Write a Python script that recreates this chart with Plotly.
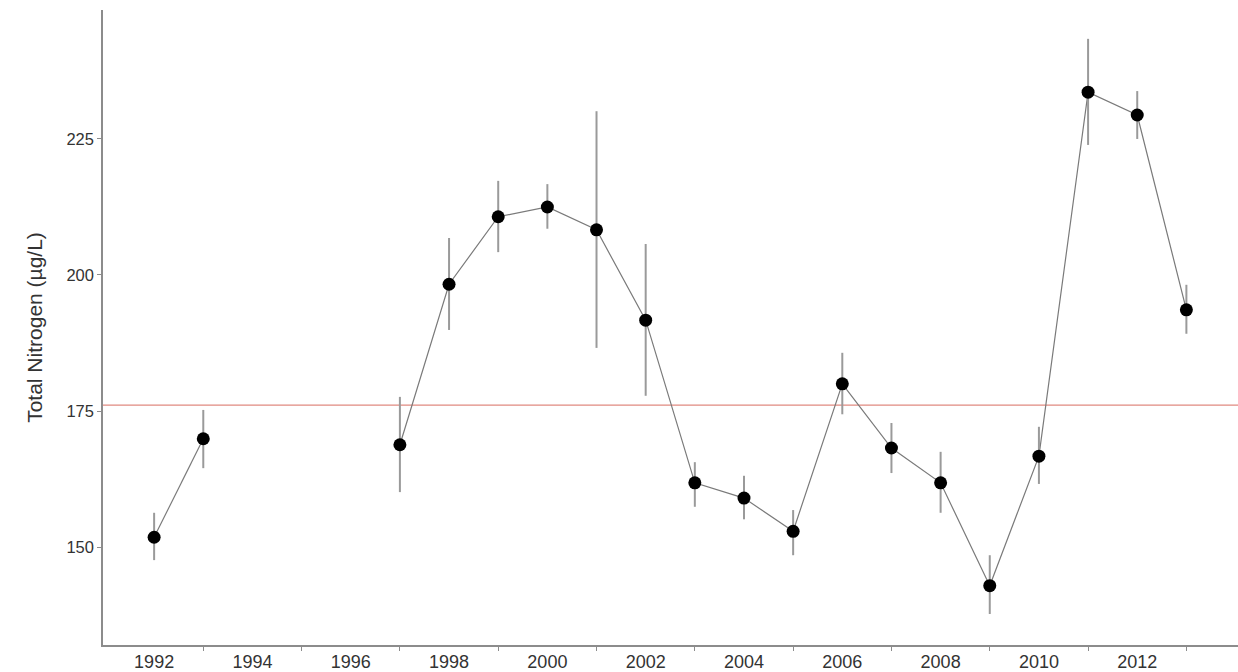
import plotly.graph_objects as go

# Annual mean total nitrogen with confidence bounds
years = [1992, 1993, 1997, 1998, 1999, 2000, 2001, 2002, 2003, 2004, 2005,
         2006, 2007, 2008, 2009, 2010, 2011, 2012, 2013]
tn_mean = [151.8, 169.9, 168.8, 198.3, 210.7, 212.5, 208.3, 191.7, 161.8, 159.0,
           152.9, 180.0, 168.2, 161.8, 142.9, 166.7, 233.6, 229.4, 193.6]
tn_upper = [156.3, 175.2, 177.6, 206.8, 217.3, 216.7, 230.1, 205.7, 165.6, 163.1,
            156.8, 185.7, 172.8, 167.5, 148.5, 172.1, 243.4, 233.8, 198.2]
tn_lower = [147.6, 164.5, 160.1, 189.9, 204.2, 208.5, 186.6, 177.8, 157.4, 155.1,
            148.5, 174.4, 163.6, 156.3, 137.7, 161.6, 223.9, 225.0, 189.2]
reference_level = 176.1

label_years = list(range(1992, 2014, 2))
tick_years = list(range(1993, 2014, 2))
y_ticks = [150, 175, 200, 225]

# Line path with a break over the years without samples
all_years = list(range(years[0], years[-1] + 1))
lookup = dict(zip(years, tn_mean))
line_y = [lookup.get(y) for y in all_years]

err_plus = [u - m for u, m in zip(tn_upper, tn_mean)]
err_minus = [m - l for m, l in zip(tn_mean, tn_lower)]

fig = go.Figure()

fig.add_shape(type="line", xref="paper", x0=0, x1=1, yref="y",
              y0=reference_level, y1=reference_level,
              line=dict(color="#e08a80", width=1.2), layer="below")

fig.add_trace(go.Scatter(
    x=all_years, y=line_y, mode="lines", connectgaps=False,
    line=dict(color="#7a7a7a", width=1.2), hoverinfo="skip", showlegend=False))

fig.add_trace(go.Scatter(
    x=years, y=tn_mean, mode="markers",
    marker=dict(color="black", size=13),
    error_y=dict(type="data", symmetric=False, array=err_plus,
                 arrayminus=err_minus, color="#9a9a9a", thickness=2, width=0),
    showlegend=False))

fig.update_layout(
    width=1238, height=672,
    margin=dict(l=103, r=0, t=10, b=27),
    paper_bgcolor="white", plot_bgcolor="white",
    font=dict(family="Liberation Sans, Arial, sans-serif", color="#333333"),
    xaxis=dict(
        range=[1990.96, 2014.05], showgrid=False, zeroline=False,
        showline=True, linecolor="#8c8c8c", linewidth=1.5,
        tickvals=label_years, ticktext=[str(y) for y in label_years],
        ticks="", tickfont=dict(size=18, color="#333333"),
        minor=dict(tickvals=tick_years, ticks="outside", ticklen=4,
                   tickcolor="#8c8c8c", tickwidth=1, showgrid=False),
    ),
    yaxis=dict(
        range=[132.0, 248.7], showgrid=False, zeroline=False,
        showline=True, linecolor="#8c8c8c", linewidth=1.5,
        tickvals=y_ticks, ticktext=[str(v) for v in y_ticks],
        ticks="outside", ticklen=4, tickcolor="#8c8c8c",
        tickfont=dict(size=16.5, color="#333333"),
        title=dict(text="Total Nitrogen (µg/L)", font=dict(size=21, color="#333333"),
                   standoff=18),
    ),
)

fig.write_html("out.html")
